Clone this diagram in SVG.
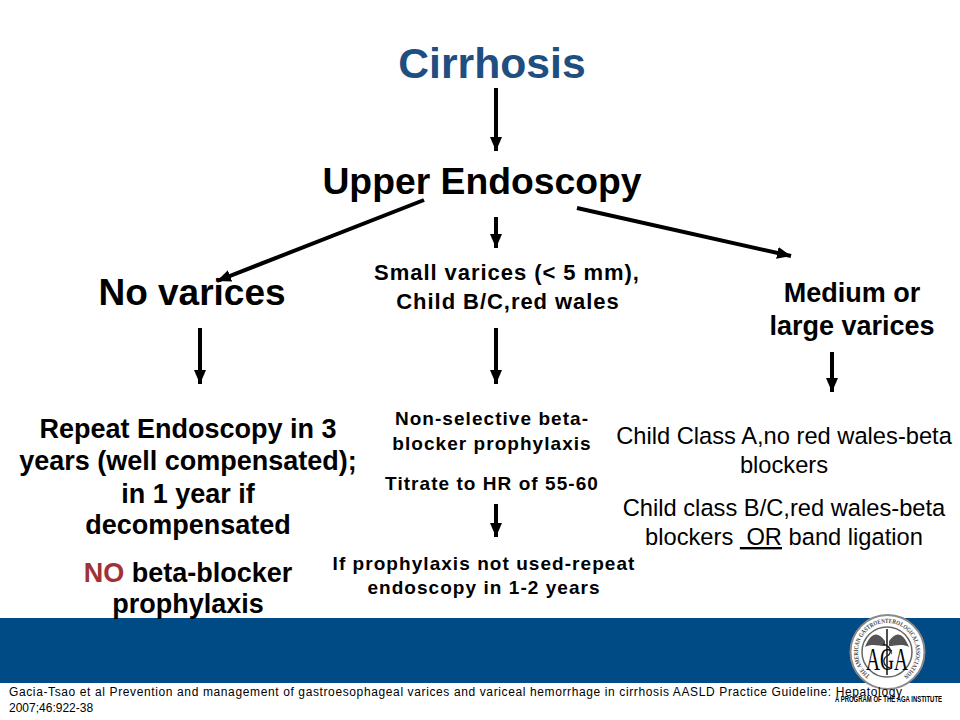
<svg xmlns="http://www.w3.org/2000/svg" width="960" height="720" viewBox="0 0 960 720">
<style>
text{font-family:"Liberation Sans",Arial,sans-serif;fill:#000;text-anchor:middle}
.b{font-weight:bold}
.line{stroke:#000;stroke-width:4;fill:none}
.t{font-size:27px}
.m{font-size:19px;letter-spacing:1.05px}
.n{font-size:22px;letter-spacing:.95px}
.l{font-size:27px}
.s{font-size:23.7px}
.c{font-size:12px;text-anchor:start}
.serif{font-family:"Liberation Serif",serif}
</style>
<defs>
<marker id="arrow" markerUnits="userSpaceOnUse" markerWidth="16" markerHeight="14" refX="14" refY="7" orient="auto"><path d="M0 1L14 7L0 13Z" fill="#000"/></marker>
<path id="ring" d="M870 675.5A29 29 0 1 1 904 675.5"/>
</defs>
<rect width="960" height="720" fill="#fff"/>
<rect id="band" x="0" y="618" width="960" height="65" fill="#004b85"/>
<g id="connectors">
<path class="line" marker-end="url(#arrow)" d="M496 88V151"/>
<path class="line" marker-end="url(#arrow)" d="M424 200L217 281"/>
<path class="line" marker-end="url(#arrow)" d="M496 217V248"/>
<path class="line" marker-end="url(#arrow)" d="M577 208L791 256"/>
<path class="line" marker-end="url(#arrow)" d="M200 328V384"/>
<path class="line" marker-end="url(#arrow)" d="M496 328V384"/>
<path class="line" marker-end="url(#arrow)" d="M832 352V392"/>
<path class="line" marker-end="url(#arrow)" d="M496 504V537"/>
</g>
<g id="title"><text class="b" x="492" y="78" font-size="42.7" style="fill:#1f4e80">Cirrhosis</text></g>
<g id="upper-endoscopy"><text class="b" x="482" y="194" font-size="37.3">Upper Endoscopy</text></g>
<g id="no-varices"><text class="b" x="192" y="305" font-size="37">No varices</text></g>
<g id="small-varices"><text class="b n" x="507" y="280">Small varices (&lt; 5 mm),</text><text class="b n" x="508" y="309">Child B/C,red wales</text></g>
<g id="large-varices"><text class="b l" x="852" y="302">Medium or</text><text class="b l" x="852" y="335">large varices</text></g>
<g id="repeat-endoscopy">
<text class="b t" x="188" y="438">Repeat Endoscopy in 3</text>
<text class="b t" x="188" y="470">years (well compensated);</text>
<text class="b t" x="188" y="503">in 1 year if</text>
<text class="b t" x="188" y="534">decompensated</text>
<text class="b t" x="188" y="582"><tspan style="fill:#9e3236">NO</tspan> beta-blocker</text>
<text class="b t" x="188" y="613">prophylaxis</text>
</g>
<g id="beta-blocker">
<text class="b m" x="492" y="425">Non-selective beta-</text>
<text class="b m" x="492" y="450">blocker prophylaxis</text>
<text class="b m" x="492" y="490">Titrate to HR of 55-60</text>
</g>
<g id="not-used">
<text class="b m" x="484" y="570">If prophylaxis not used-repeat</text>
<text class="b m" x="484" y="594">endoscopy in 1-2 years</text>
</g>
<g id="child-class">
<text class="s" x="784" y="444">Child Class A,no red wales-beta</text>
<text class="s" x="784" y="473">blockers</text>
<text class="s" x="784" y="516">Child class B/C,red wales-beta</text>
<text class="s" x="784" y="545">blockers  <tspan text-decoration="underline" xml:space="preserve"> OR</tspan> band ligation</text>
</g>
<g id="aga-seal">
<circle cx="887.5" cy="652" r="37" fill="#fff" stroke="#8a8a8a" stroke-width="2"/>
<circle cx="887" cy="652" r="25" fill="#fff" stroke="#666" stroke-width="1.5"/>
<text font-size="6.4" class="serif" font-weight="bold" style="text-anchor:start;fill:#444" textLength="146" lengthAdjust="spacingAndGlyphs"><textPath href="#ring">THE AMERICAN GASTROENTEROLOGICAL ASSOCIATION</textPath></text>
<path d="M885 641C878 631 871 632 865 647C872 643 879 646 885 646ZM889 641C896 631 903 632 909 647C902 643 895 646 889 646Z" fill="#555"/>
<path d="M887 629V675" stroke="#222" stroke-width="1.6"/>
<text class="b serif" x="887" y="670" font-size="31" textLength="42" lengthAdjust="spacingAndGlyphs" style="font-weight:normal">AGA</text>
<path d="M883 644C893 647 891 654 887 656C882 659 883 666 890 668" stroke="#222" stroke-width="1.4" fill="none"/>
</g>
<g id="citation">
<text class="c" x="9" y="696" textLength="893">Gacia-Tsao et al Prevention and management of gastroesophageal varices and variceal hemorrhage in cirrhosis AASLD Practice Guideline: Hepatology</text>
<text class="c" x="9" y="712">2007;46:922-38</text>
</g>
<g id="aga-institute"><text class="b" x="835" y="702" font-size="9.5" style="text-anchor:start" textLength="107" lengthAdjust="spacingAndGlyphs">A PROGRAM OF THE AGA INSTITUTE</text></g>
</svg>
